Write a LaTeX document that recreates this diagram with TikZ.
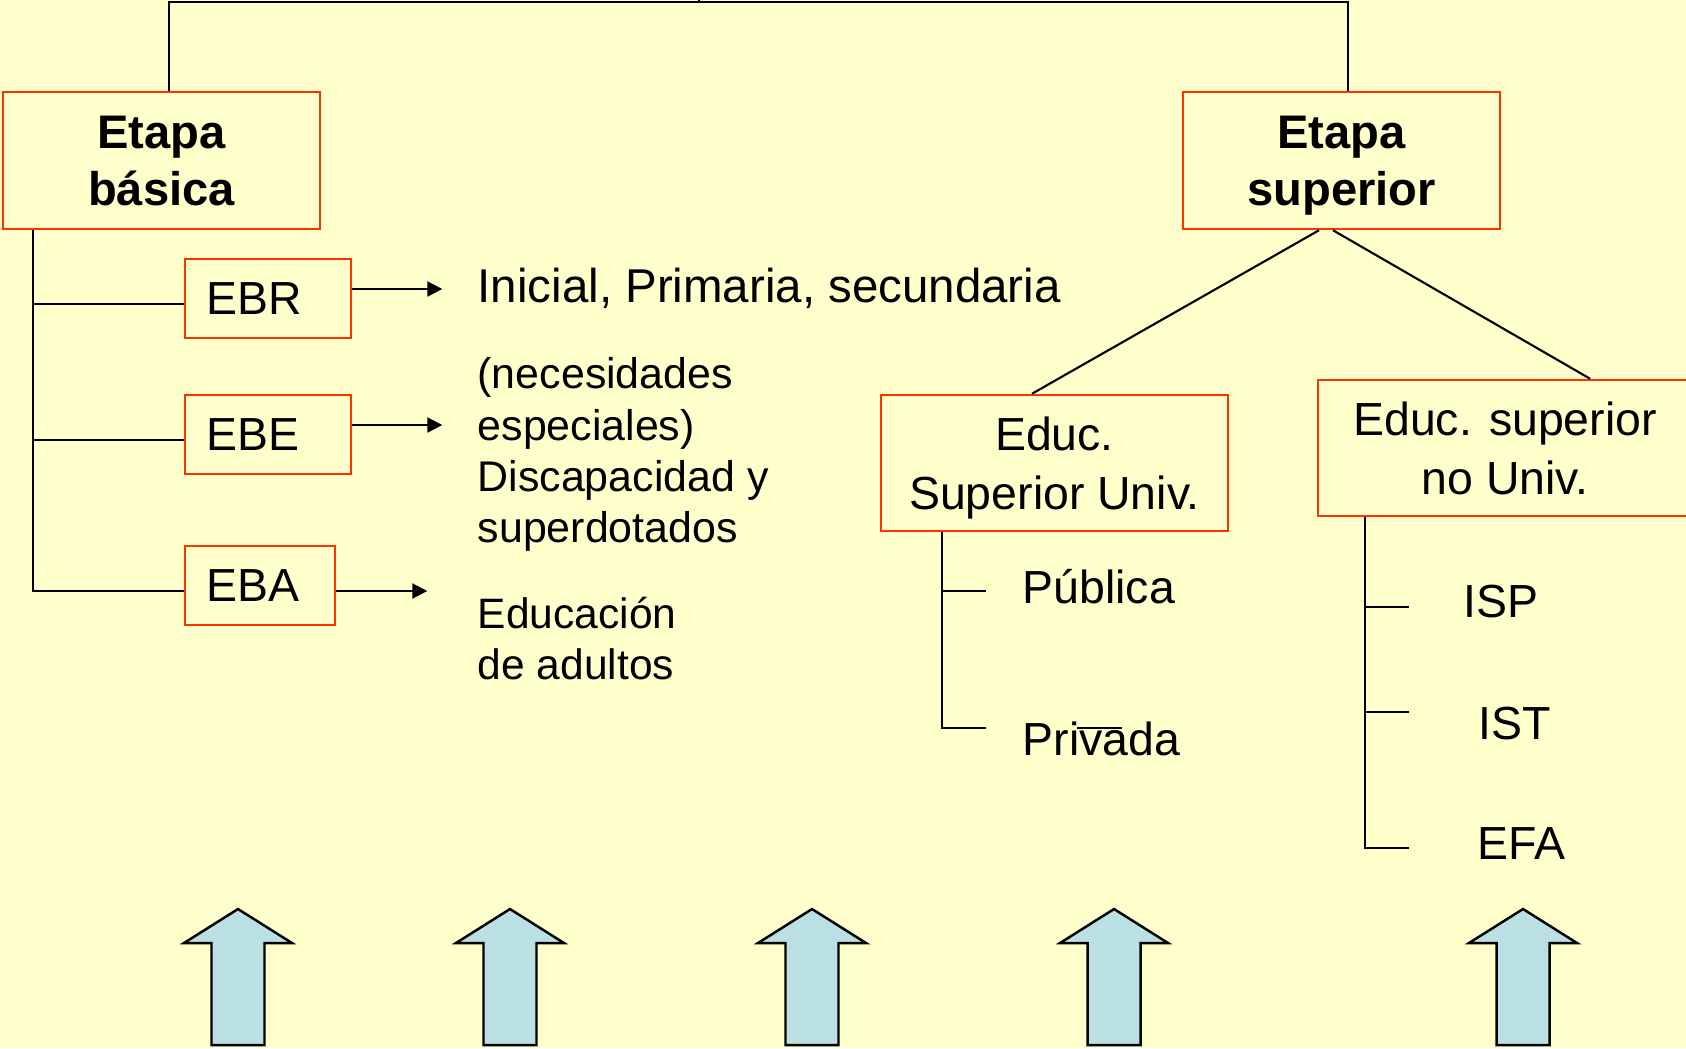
\documentclass[tikz,border=0pt]{standalone}
\usepackage{fontspec}
\setmainfont{Liberation Sans}
\usetikzlibrary{arrows.meta}

\definecolor{bgyellow}{HTML}{FFFFCC}
\definecolor{boxred}{HTML}{FF3300}
\definecolor{arrblue}{HTML}{BBE0E3}

\begin{document}
\begin{tikzpicture}[
  x=0.01cm, y=-0.01cm,
  box/.style={draw=boxred, line width=0.7pt, inner sep=0pt,
              font=\fontsize{13.2}{16.8}\selectfont},
  stage/.style={box, minimum width=3.17cm, minimum height=1.37cm, align=center,
                text depth=0pt, font=\fontsize{13.4}{16.2}\selectfont\bfseries},
  lvl/.style={box, minimum height=0.79cm, align=left, inner xsep=0.22cm},
  txt/.style={inner sep=0pt, font=\fontsize{13.2}{16.8}\selectfont},
  edge/.style={line width=0.6pt, black},
  arr/.style={edge, -{Triangle[length=1.5mm, width=1.5mm]}},
  blk/.style={draw=black, line width=0.7pt, fill=arrblue},
  uparr/.pic={\draw[blk] (0,0) -- (54,34) -- (26.5,34) -- (26.5,136)
              -- (-26.5,136) -- (-26.5,34) -- (-54,34) -- cycle;}
]
  \useasboundingbox (0,0) rectangle (1686,1048);
  \clip (0,0) rectangle (1686,1048);
  \fill[bgyellow] (0,0) rectangle (1686,1048);

  % stages
  \node[stage] (eb) at (161.5,160.5) {Etapa\\básica};
  \node[stage] (es) at (1341.5,160.5) {Etapa\\superior};

  % basic level
  \node[lvl, text width=1.22cm] (ebr) at (268,298.5) {EBR};
  \node[lvl, text width=1.22cm] (ebe) at (268,434.5) {EBE};
  \node[lvl, text width=1.06cm] (eba) at (260,585.5) {EBA};

  \node[txt, anchor=base west, font=\fontsize{13.5}{16.8}\selectfont] (ini)
        at (477,302) {Inicial, Primaria, secundaria};
  \node[txt, anchor=north west, align=left,
        font=\fontsize{12.2}{14.6}\selectfont] (nec) at (477,357)
        {(necesidades\\especiales)\\Discapacidad y\\superdotados};
  \node[txt, anchor=north west, align=left,
        font=\fontsize{12.1}{14.7}\selectfont] (edu) at (477,596)
        {Educación\\de adultos};

  % higher level
  \node[box, minimum width=3.47cm, minimum height=1.36cm, align=center,
        text depth=0pt] (esu) at (1054.5,463) {Educ.\\Superior Univ.};
  \node[box, minimum width=3.74cm, minimum height=1.36cm, align=center,
        text depth=0pt] (esn) at (1505,448) {Educ. superior\\no Univ.};

  \node[txt, anchor=base west] (pub) at (1022,603) {Pública};
  \node[txt, anchor=base west] (pri) at (1022,755) {Privada};
  \node[txt, anchor=base west] (isp) at (1463,617) {ISP};
  \node[txt, anchor=base west] (ist) at (1478,739) {IST};
  \node[txt, anchor=base west] (efa) at (1477,859) {EFA};

  % top frame
  \coordinate (tl) at (169,2);
  \coordinate (tr) at (1348,2);
  \coordinate (up) at (699,-4);
  \draw[edge] (eb.north -| tl) -- (tl) -- (tr) -- (es.north -| tr);
  \draw[edge] (up |- tl) -- (up);

  % left trunk
  \coordinate (lt) at (33,0);
  \coordinate (pr) at ([yshift=-0.55mm]ebr.west);
  \coordinate (pe) at ([yshift=-0.55mm]ebe.west);
  \coordinate (pa) at ([yshift=-0.55mm]eba.west);
  \draw[edge] (eb.south -| lt) -- (lt |- pa) -- (pa);
  \draw[edge] (lt |- pr) -- (pr);
  \draw[edge] (lt |- pe) -- (pe);

  \draw[arr] ([yshift=0.95mm]ebr.east) -- +(90,0);
  \draw[arr] ([yshift=0.95mm]ebe.east) -- +(90,0);
  \draw[arr] ([yshift=-0.55mm]eba.east) -- +(91,0);

  % split of the higher stage
  \draw[edge] ([xshift=-2.25mm]es.south) -- ([xshift=-2.25mm]esu.north);
  \draw[edge] ([xshift=-0.85mm]es.south) -- ([xshift=8.5mm]esn.north);

  \coordinate (ut) at (942,0);
  \coordinate (u1) at (986,591);
  \coordinate (u2) at (986,728);
  \draw[edge] (esu.south -| ut) -- (ut |- u2) -- (u2);
  \draw[edge] (ut |- u1) -- (u1);
  \coordinate (s1) at (1077,728);
  \coordinate (s2) at (1122,728);
  \draw[edge] (s1) -- (s2);

  \coordinate (nt) at (1365,0);
  \coordinate (n1) at (1409,607);
  \coordinate (n2) at (1409,712);
  \coordinate (n3) at (1409,848);
  \draw[edge] (esn.south -| nt) -- (nt |- n3) -- (n3);
  \draw[edge] (nt |- n1) -- (n1);
  \draw[edge] (nt |- n2) -- (n2);

  % arrows at the bottom
  \pic at (238,909) {uparr};
  \pic at (510,909) {uparr};
  \pic at (812,909) {uparr};
  \pic at (1114,909) {uparr};
  \pic at (1523,909) {uparr};
\end{tikzpicture}
\end{document}
